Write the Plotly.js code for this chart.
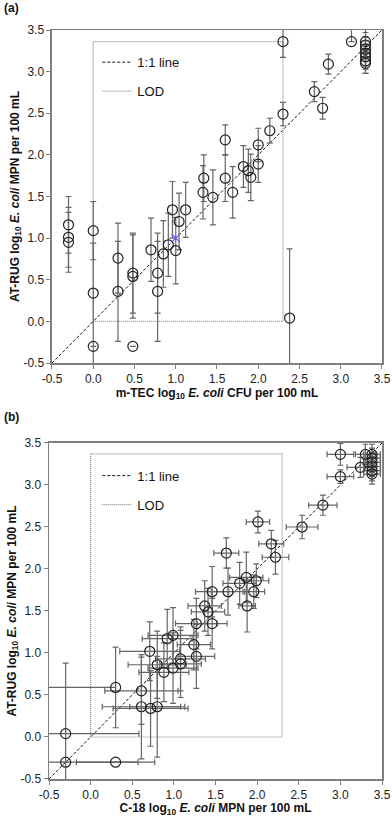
<!DOCTYPE html>
<html>
<head>
<meta charset="utf-8">
<script src="https://cdn.plot.ly/plotly-3.0.1.min.js"></script>
<style>
  html, body { margin: 0; padding: 0; background: #fff; }
  #plot { width: 392px; height: 817px; }
</style>
</head>
<body>
<div id="plot"></div>
<script>
// Panel (a): m-TEC vs AT-RUG
const xa = [-0.3, -0.3, -0.3, 0, 0, 0, 0.3, 0.3, 0.48, 0.48, 0.48, 0.7, 0.78, 0.78, 0.85, 0.91, 0.96, 1.0, 1.04, 1.12,
  1.33, 1.34, 1.45, 1.6, 1.6, 1.69, 1.82, 1.88, 1.91, 2.0, 2.0, 2.14, 2.3, 2.3, 2.38, 2.68, 2.78, 2.85, 3.13,
  3.3, 3.3, 3.3, 3.3, 3.3, 3.3, 3.3];
const ya = [1.16, 1.01, 0.95, 1.09, 0.34, -0.3, 0.76, 0.36, 0.58, 0.54, -0.3, 0.86, 0.58, 0.36, 0.81, 0.92, 1.34, 0.85, 1.2, 1.34,
  1.55, 1.72, 1.49, 2.18, 1.72, 1.55, 1.86, 1.81, 1.73, 2.12, 1.89, 2.29, 2.49, 3.36, 0.04, 2.76, 2.56, 3.09, 3.36,
  3.36, 3.32, 3.27, 3.22, 3.18, 3.13, 3.1];
const yaPlus = [0.34, 0.36, 0.36, 0.35, 0.6, 0, 0.42, 0.6, 0.48, 0.5, 0, 0.38, 0.48, 0.6, 0.4, 0.38, 0.34, 0.4, 0.34, 0.33,
  0.32, 0.28, 0.33, 0.18, 0.28, 0.31, 0.25, 0.26, 0.28, 0.2, 0.22, 0.15, 0.14, 0.2, 0.83, 0.12, 0.13, 0.12, 0.2,
  0.15, 0.15, 0.15, 0.15, 0.15, 0.15, 0.15];
const yaMinus = [0.34, 0.36, 0.36, 0.35, 1.2, 0, 0.42, 0.6, 0.48, 0.5, 0, 0.38, 0.48, 0.6, 0.4, 0.38, 0.34, 0.4, 0.34, 0.33,
  0.32, 0.28, 0.33, 0.18, 0.28, 0.31, 0.25, 0.26, 0.28, 0.2, 0.22, 0.15, 0.14, 0.19, 1.0, 0.12, 0.13, 0.12, 0,
  0.15, 0.15, 0.15, 0.15, 0.15, 0.15, 0.12];
const xBlue = [1.0];
const yBlue = [1.0];

// Panel (b): C-18 vs AT-RUG
const xb = [-0.3, -0.3, 0.3, 0.3, 0.61, 0.61, 0.72, 0.8, 0.71, 0.8, 0.88, 0.99, 1.08, 1.08, 0.92, 0.99, 1.24, 1.27, 1.27,
  1.37, 1.41, 1.46, 1.46, 1.65, 1.96, 1.88, 1.79, 1.87, 1.99, 1.63, 2.22, 2.17, 2.01, 2.54, 2.79, 3.0, 3.24, 3.0,
  3.3, 3.38, 3.38, 3.38, 3.38, 3.38, 3.38];
const yb = [0.04, -0.3, -0.3, 0.59, 0.55, 0.36, 0.34, 0.36, 1.02, 0.86, 0.77, 0.82, 0.93, 0.87, 1.17, 1.21, 1.1, 0.96, 1.35,
  1.56, 1.49, 1.35, 1.73, 1.73, 1.73, 1.56, 1.83, 1.9, 1.86, 2.19, 2.14, 2.3, 2.56, 2.5, 2.76, 3.1, 3.21, 3.365,
  3.365, 3.365, 3.32, 3.27, 3.22, 3.17, 3.13];
const xbPlus = [0.88, 0.87, 0.47, 0, 0.44, 0.47, 0.45, 0.33, 0.36, 0.35, 0.3, 0.3, 0.3, 0.25, 0.3, 0.3, 0.2, 0.22, 0.25,
  0.2, 0.2, 0.18, 0.2, 0.2, 0.13, 0.1, 0.2, 0.2, 0.15, 0.15, 0.16, 0.15, 0.14, 0.19, 0.17, 0.16, 0.16, 0.16,
  0.12, 0.1, 0.1, 0.1, 0.1, 0.1, 0.1];
const xbMinus = [0.88, 0.87, 0.47, 1.0, 0.44, 0.47, 0.45, 0.33, 0.36, 0.35, 0.3, 0.3, 0.3, 0.25, 0.3, 0.3, 0.2, 0.22, 0.25,
  0.2, 0.2, 0.18, 0.2, 0.2, 0.13, 0.1, 0.2, 0.2, 0.15, 0.15, 0.16, 0.15, 0.14, 0.19, 0.17, 0.16, 0.16, 0.16,
  0.12, 0.1, 0.1, 0.1, 0.1, 0.1, 0.1];
const ybErr = [0.84, 0, 0, 0.48, 0.4, 0.62, 0.45, 0.6, 0.35, 0.4, 0.35, 0.42, 0.38, 0.4, 0.35, 0.33, 0.3, 0.38, 0.3,
  0.3, 0.28, 0.3, 0.3, 0.28, 0.2, 0.31, 0.25, 0.3, 0.2, 0.18, 0.2, 0.16, 0.13, 0.14, 0.12, 0.08, 0.12, 0.13,
  0.12, 0.12, 0.12, 0.12, 0.12, 0.12, 0.12];

// reference lines
const oneToOne = [-0.5, 3.5];
const lodX = [0, 2.3, 2.3, 0, 0];
const lodYa = [0, 0, 3.36, 3.36, 0];
const lodYb = [0, 0, 3.37, 3.37, 0];
const tickVals = [-0.5, 0, 0.5, 1, 1.5, 2, 2.5, 3, 3.5];

const FONT = "Liberation Sans, Arial, sans-serif";
const ERR_COLOR = "#666";

function lineTraces(xax, yax, lodY, legendId, show) {
  return [
    {
      x: oneToOne, y: oneToOne, type: "scatter", mode: "lines", name: "1:1 line",
      line: { color: "#111", width: 1, dash: "3px,2px" },
      xaxis: xax, yaxis: yax, legend: legendId, legendgroup: "g1", showlegend: show,
      hoverinfo: "skip",
    },
    {
      x: lodX, y: lodY, type: "scatter", mode: "lines", name: "LOD",
      line: { color: "#8a8a8a", width: 1.2, dash: "1px,1px" },
      xaxis: xax, yaxis: yax, legend: legendId, legendgroup: "g2", showlegend: show,
      hoverinfo: "skip",
    },
  ];
}

const marker = { symbol: "circle-open", size: 10, color: "#222", line: { width: 1.2, color: "#222" } };

const traceA = {
  x: xa, y: ya, type: "scatter", mode: "markers", marker: marker, showlegend: false,
  error_y: { type: "data", symmetric: false, array: yaPlus, arrayminus: yaMinus, color: ERR_COLOR, thickness: 1.2, width: 3 },
  xaxis: "x", yaxis: "y",
};
const traceBlue = {
  x: xBlue, y: yBlue, type: "scatter", mode: "markers", showlegend: false,
  marker: { symbol: "x-thin-open", size: 8, color: "#5a5aff", line: { width: 1.2, color: "#5a5aff" } },
  xaxis: "x", yaxis: "y",
};
const traceB = {
  x: xb, y: yb, type: "scatter", mode: "markers", marker: marker, showlegend: false,
  error_y: { type: "data", array: ybErr, color: ERR_COLOR, thickness: 1.2, width: 3 },
  error_x: { type: "data", symmetric: false, array: xbPlus, arrayminus: xbMinus, color: ERR_COLOR, thickness: 1.2, width: 3 },
  xaxis: "x2", yaxis: "y2",
};

const data = [
  ...lineTraces("x", "y", lodYa, "legend", true),
  traceA, traceBlue,
  ...lineTraces("x2", "y2", lodYb, "legend2", true),
  traceB,
];

function axis(extra) {
  return Object.assign({
    range: [-0.5, 3.5], tickvals: tickVals, ticktext: tickVals.map((v) => v.toFixed(1)),
    showgrid: false, zeroline: false, showline: true, mirror: true,
    linecolor: "#808080", linewidth: 1.5, ticks: "outside", ticklen: 4, tickcolor: "#808080",
    tickfont: { family: FONT, size: 12, color: "#222" },
  }, extra);
}

const titleFont = { family: FONT, size: 12, color: "#111" };
const yTitle = "<b>AT-RUG log<sub>10</sub> <i>E. coli</i> MPN per 100 mL</b>";

const legendStyle = (y) => ({
  x: 0.145, y: y, xanchor: "left", yanchor: "top", bgcolor: "rgba(0,0,0,0)",
  font: { family: FONT, size: 13, color: "#111" }, traceorder: "grouped", tracegroupgap: 9,
});

const layout = {
  width: 392, height: 817,
  margin: { l: 49, r: 10, t: 30, b: 38 },
  showlegend: true,
  paper_bgcolor: "#fff", plot_bgcolor: "#fff",
  font: { family: FONT },
  xaxis: axis({ domain: [0.009, 1], anchor: "y",
    title: { text: "<b>m-TEC log<sub>10</sub> <i>E. coli</i> CFU per 100 mL</b>", font: titleFont, standoff: 2 } }),
  yaxis: axis({ domain: [0.5554, 1], anchor: "x", title: { text: yTitle, font: titleFont, standoff: 1 } }),
  xaxis2: axis({ domain: [0, 1], anchor: "y2",
    title: { text: "<b>C-18 log<sub>10</sub> <i>E. coli</i> MPN per 100 mL</b>", font: titleFont, standoff: 4 } }),
  yaxis2: axis({ domain: [0, 0.4486], anchor: "x2", title: { text: yTitle, font: titleFont, standoff: 1 } }),
  legend: legendStyle(0.977),
  legend2: legendStyle(0.425),
  annotations: [
    { xref: "paper", yref: "paper", x: -0.141, y: 1.03, xanchor: "left", yanchor: "middle",
      text: "<b>(a)</b>", showarrow: false, font: { family: FONT, size: 12, color: "#111" } },
    { xref: "paper", yref: "paper", x: -0.141, y: 0.4833, xanchor: "left", yanchor: "middle",
      text: "<b>(b)</b>", showarrow: false, font: { family: FONT, size: 12, color: "#111" } },
  ],
};

Plotly.newPlot("plot", data, layout, { displayModeBar: false, staticPlot: true });
</script>
</body>
</html>
